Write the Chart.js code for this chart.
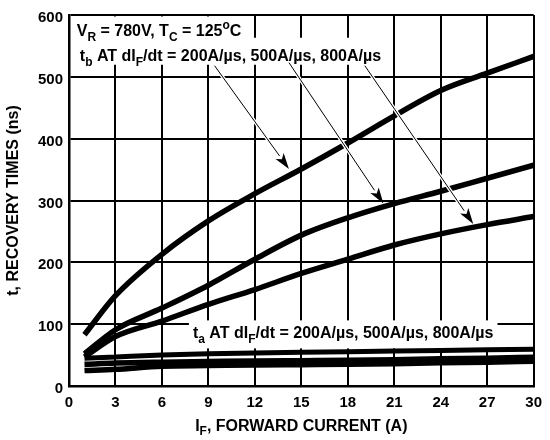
<!DOCTYPE html>
<html>
<head>
<meta charset="utf-8">
<script src="https://cdn.jsdelivr.net/npm/chart.js@4.4.0/dist/chart.umd.min.js"></script>
<style>
  html, body { margin: 0; padding: 0; background: #fff; }
</style>
</head>
<body>
<canvas id="canvas" width="550" height="440"></canvas>
<script>
// Courant direct (A) et temps de recouvrement (ns)
const current = [1, 3, 6, 9, 12, 15, 18, 21, 24, 27, 30];
const tb200 = [83, 146, 213, 267, 311, 351, 393, 437, 478, 506, 533];
const tb500 = [52, 91, 126, 163, 205, 244, 272, 295, 315, 336, 357];
const tb800 = [47, 80, 105, 132, 156, 182, 205, 228, 246, 261, 274];
const ta200 = [45, 47, 50, 52, 53.5, 54.5, 55.5, 56.5, 57.5, 58.5, 59.5];
const ta500 = [35, 37, 38.5, 39.5, 40.5, 41, 41.5, 42.5, 44, 45, 46.5];
const ta800 = [25, 27, 32, 33, 34, 34.5, 35, 36, 37.5, 38.5, 40];

const FONT = "'Liberation Sans', Arial, Helvetica, sans-serif";

// Textes avec indices / exposants
const line1 = [{ t: "V" }, { t: "R", sub: 1 }, { t: " = 780V, T" }, { t: "C", sub: 1 }, { t: " = 125" }, { t: "o", sup: 1 }, { t: "C" }];
const line2 = [{ t: "t" }, { t: "b", sub: 1 }, { t: " AT dI" }, { t: "F", sub: 1 }, { t: "/dt = 200A/µs, 500A/µs, 800A/µs" }];
const line3 = [{ t: "t" }, { t: "a", sub: 1 }, { t: " AT dI" }, { t: "F", sub: 1 }, { t: "/dt = 200A/µs, 500A/µs, 800A/µs" }];
const xTitle = [{ t: "I" }, { t: "F", sub: 1 }, { t: ", FORWARD CURRENT (A)" }];
const yTitle = "t, RECOVERY TIMES (ns)";

// Position des annotations en unités du graphique
const notes = [
  { parts: line1, x: 0.5, y: 566, above: 21, below: 3 },
  { parts: line2, x: 0.7, y: 526, above: 23, below: 4 },
  { parts: line3, x: 8.0, y: 77, above: 18, below: 10 },
];
const arrowFrom = [[9.4, 518], [14.2, 523], [19.1, 518]];
const arrowTo = [[14.2, 351], [20.3, 295], [26.1, 262]];

function drawRich(ctx, parts, x, y, size, draw) {
  let cx = x;
  parts.forEach((p) => {
    const s = p.sub || p.sup ? Math.round(size * 0.72) : size;
    ctx.font = `bold ${s}px ${FONT}`;
    const dy = p.sub ? size * 0.3 : p.sup ? -size * 0.42 : 0;
    if (draw) ctx.fillText(p.t, cx, y + dy);
    cx += ctx.measureText(p.t).width;
  });
  return cx - x;
}

const annotations = {
  id: "annotations",
  beforeDatasetsDraw(chart) {
    const { ctx, scales, chartArea } = chart;
    ctx.save();
    ctx.textBaseline = "alphabetic";
    ctx.textAlign = "left";
    notes.forEach((n) => {
      const px = scales.x.getPixelForValue(n.x);
      const py = scales.y.getPixelForValue(n.y);
      const w = drawRich(ctx, n.parts, px, py, 16, false);
      const top = Math.max(py - n.above, chartArea.top + 1.5);
      ctx.fillStyle = "#fff";
      ctx.fillRect(px - 4, top, w + 8, py + n.below - top);
    });
    ctx.fillStyle = "#000";
    notes.forEach((n) => {
      const px = scales.x.getPixelForValue(n.x);
      const py = scales.y.getPixelForValue(n.y);
      drawRich(ctx, n.parts, px, py, 16, true);
    });
    ctx.restore();
  },
  afterDatasetsDraw(chart) {
    const { ctx, scales, chartArea } = chart;
    ctx.save();
    // Flèches
    arrowFrom.forEach((from, i) => {
      const x0 = scales.x.getPixelForValue(from[0]);
      const y0 = scales.y.getPixelForValue(from[1]);
      const x1 = scales.x.getPixelForValue(arrowTo[i][0]);
      const y1 = scales.y.getPixelForValue(arrowTo[i][1]);
      const ang = Math.atan2(y1 - y0, x1 - x0);
      const len = 16, half = 5;
      const bx = x1 - len * Math.cos(ang), by = y1 - len * Math.sin(ang);
      ctx.strokeStyle = "#fff";
      ctx.lineWidth = 3.5;
      ctx.beginPath();
      ctx.moveTo(x0, y0);
      ctx.lineTo(bx, by);
      ctx.stroke();
      ctx.strokeStyle = "#000";
      ctx.lineWidth = 1;
      ctx.beginPath();
      ctx.moveTo(x0, y0);
      ctx.lineTo(bx, by);
      ctx.stroke();
      ctx.fillStyle = "#000";
      ctx.beginPath();
      ctx.moveTo(x1, y1);
      ctx.lineTo(bx + half * Math.sin(ang), by - half * Math.cos(ang));
      ctx.lineTo(bx + 4 * Math.cos(ang), by + 4 * Math.sin(ang));
      ctx.lineTo(bx - half * Math.sin(ang), by + half * Math.cos(ang));
      ctx.closePath();
      ctx.fill();
    });
    // Titres des axes
    ctx.fillStyle = "#000";
    ctx.textBaseline = "middle";
    const cx = (chartArea.left + chartArea.right) / 2;
    const w = drawRich(ctx, xTitle, 0, 0, 16, false);
    drawRich(ctx, xTitle, cx - w / 2, 427, 16, true);
    ctx.translate(14, (chartArea.top + chartArea.bottom) / 2);
    ctx.rotate(-Math.PI / 2);
    ctx.textAlign = "center";
    ctx.font = `bold 16px ${FONT}`;
    ctx.fillText(yTitle, 0, 0);
    ctx.restore();
  },
};

const series = [
  { values: tb200, width: 5.5 },
  { values: tb500, width: 5.5 },
  { values: tb800, width: 5.5 },
  { values: ta200, width: 5 },
  { values: ta500, width: 5.5 },
  { values: ta800, width: 5.5 },
];

Chart.defaults.font.family = FONT;
Chart.defaults.color = "#000";

new Chart(document.getElementById("canvas").getContext("2d"), {
  type: "line",
  data: {
    datasets: series.map((s) => ({
      data: current.map((x, i) => ({ x, y: s.values[i] })),
      borderColor: "#000",
      borderWidth: s.width,
      pointRadius: 0,
      cubicInterpolationMode: "monotone",
      fill: false,
    })),
  },
  options: {
    responsive: false,
    animation: false,
    layout: { padding: { left: 0, right: 9, top: 12, bottom: 0 } },
    plugins: { legend: { display: false }, tooltip: { enabled: false } },
    scales: {
      x: {
        type: "linear",
        min: 0,
        max: 30,
        ticks: { stepSize: 3, padding: 8, font: { size: 15, weight: "bold" } },
        grid: { color: "#000", lineWidth: 2, drawTicks: false },
        border: { color: "#000", width: 2.5 },
        afterFit(scale) { scale.height = 54; },
      },
      y: {
        min: 0,
        max: 600,
        ticks: { stepSize: 100, padding: 6, labelOffset: 3, font: { size: 15, weight: "bold" } },
        grid: { color: "#000", lineWidth: 2, drawTicks: false },
        border: { color: "#000", width: 2.5 },
        afterFit(scale) { scale.width = 69; },
      },
    },
  },
  plugins: [annotations],
});
</script>
</body>
</html>
